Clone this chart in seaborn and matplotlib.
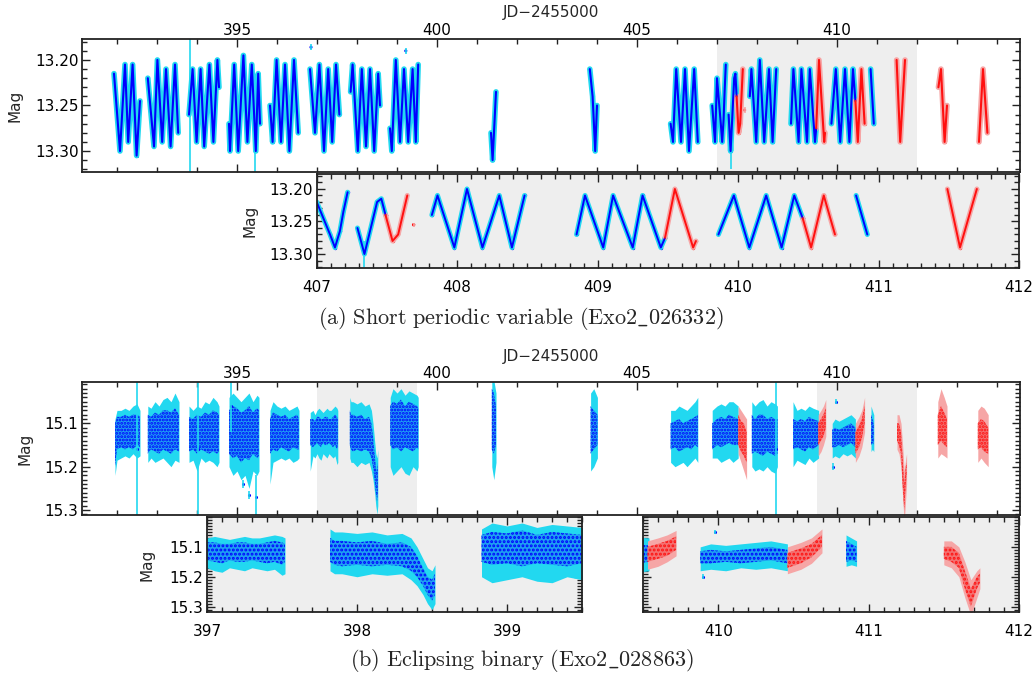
import matplotlib
matplotlib.use("Agg")
import matplotlib.pyplot as plt
import seaborn as sns
from matplotlib.ticker import MultipleLocator, FormatStrFormatter, FixedLocator

# ------------------------------------------------------------------ data
# (a) short periodic variable: read-off turning points of each light-curve chunk
A_BLUE_T = [
    [391.925, 392.075, 392.2, 392.28, 392.39, 392.49, 392.575],
    [392.77, 392.925, 393.01, 393.13, 393.225, 393.34, 393.45, 393.53],
    [393.8, 393.89, 393.99, 394.09, 394.18, 394.31, 394.41, 394.51, 394.55],
    [394.8, 394.825, 394.93, 395.03, 395.16, 395.26, 395.37, 395.47, 395.53, 395.575],
    [395.825, 395.89, 395.99, 396.1, 396.2, 396.31, 396.425, 396.53],
    [396.825, 396.95, 397.06, 397.175, 397.28, 397.38, 397.475, 397.56],
    [397.84, 397.89, 398.02, 398.12, 398.225, 398.325, 398.43, 398.53, 398.575],
    [398.825, 398.87, 398.97, 399.075, 399.175, 399.28, 399.39, 399.47, 399.53],
    [401.35, 401.39, 401.475],
    [403.82, 403.89, 403.955, 404.0],
    [405.84, 405.9, 405.98, 406.1, 406.2, 406.3, 406.43, 406.52],
    [406.88, 406.95, 407.0, 407.095, 407.13, 407.165, 407.19, 407.22],
    [407.29, 407.34, 407.43, 407.46, 407.49],
    [407.82, 407.86, 407.98, 408.07, 408.18, 408.3, 408.39, 408.48],
    [408.85, 408.91, 409.04, 409.11, 409.25, 409.32, 409.45, 409.48],
    [409.86, 409.97, 410.08, 410.2, 410.31, 410.4, 410.46],
    [410.84, 410.92],
]
A_BLUE_M = [
    [13.215, 13.300, 13.205, 13.290, 13.205, 13.305, 13.245],
    [13.220, 13.295, 13.200, 13.290, 13.210, 13.295, 13.205, 13.280],
    [13.260, 13.210, 13.290, 13.210, 13.295, 13.205, 13.290, 13.200, 13.230],
    [13.270, 13.300, 13.205, 13.300, 13.195, 13.290, 13.205, 13.300, 13.215, 13.270],
    [13.250, 13.290, 13.200, 13.290, 13.205, 13.300, 13.200, 13.280],
    [13.210, 13.280, 13.205, 13.300, 13.210, 13.290, 13.205, 13.260],
    [13.235, 13.205, 13.300, 13.210, 13.295, 13.210, 13.300, 13.215, 13.250],
    [13.275, 13.300, 13.200, 13.290, 13.210, 13.290, 13.210, 13.290, 13.205],
    [13.280, 13.310, 13.235],
    [13.210, 13.240, 13.300, 13.250],
    [13.270, 13.290, 13.210, 13.290, 13.210, 13.300, 13.210, 13.290],
    [13.250, 13.290, 13.220, 13.270, 13.290, 13.265, 13.235, 13.205],
    [13.260, 13.300, 13.220, 13.215, 13.240],
    [13.240, 13.210, 13.290, 13.200, 13.290, 13.210, 13.290, 13.210],
    [13.270, 13.210, 13.290, 13.210, 13.290, 13.210, 13.290, 13.275],
    [13.270, 13.210, 13.290, 13.210, 13.290, 13.210, 13.245],
    [13.210, 13.270],
]
A_RED_T = [
    [407.49, 407.54, 407.58, 407.645],
    [409.48, 409.55, 409.68, 409.70],
    [410.46, 410.52, 410.61, 410.69],
    [411.49, 411.58, 411.70],
    [412.535, 412.60, 412.69, 412.75],
    [413.55, 413.65, 413.76],
]
A_RED_M = [
    [13.240, 13.280, 13.270, 13.210],
    [13.275, 13.200, 13.290, 13.280],
    [13.245, 13.290, 13.210, 13.270],
    [13.200, 13.290, 13.200],
    [13.230, 13.210, 13.290, 13.250],
    [13.290, 13.210, 13.280],
]
# isolated points / long error bars in (a)
A_OUT_T = [393.83, 395.45, 407.34, 396.85, 399.22, 407.69]
A_OUT_M = [13.250, 13.300, 13.300, 13.186, 13.190, 13.255]
A_OUT_E = [0.080, 0.025, 0.020, 0.003, 0.003, 0.003]
A_OUT_RED = [False, False, False, False, False, True]

# (b) eclipsing binary: envelopes of the scatter (core = dots, err = error bars)
B_BLUE_T = [
    [391.95, 392.0, 392.1, 392.2, 392.3, 392.4, 392.5, 392.575],
    [392.77, 392.85, 392.95, 393.05, 393.15, 393.25, 393.35, 393.45, 393.55],
    [393.8, 393.9, 394.0, 394.1, 394.2, 394.3, 394.4, 394.5, 394.55],
    [394.8, 394.9, 395.0, 395.1, 395.2, 395.3, 395.4, 395.5, 395.55],
    [395.825, 395.9, 396.0, 396.1, 396.2, 396.3, 396.4, 396.5, 396.55],
    [396.83, 396.9, 396.95, 397.0, 397.05, 397.1, 397.15, 397.2, 397.25, 397.3,
     397.35, 397.4, 397.45, 397.5, 397.52],
    [397.82, 397.85, 397.9, 398.0, 398.1, 398.2, 398.3, 398.36, 398.4, 398.44,
     398.47, 398.5, 398.52],
    [398.83, 398.9, 399.0, 399.1, 399.2, 399.3, 399.4, 399.5, 399.53],
    [401.37, 401.42, 401.475],
    [403.84, 403.92, 404.01],
    [405.84, 405.95, 406.05, 406.15, 406.25, 406.35, 406.45, 406.52],
    [406.88, 407.0, 407.1, 407.2, 407.3, 407.4, 407.53],
    [407.87, 407.95, 408.05, 408.15, 408.25, 408.35, 408.45, 408.51],
    [408.9, 409.0, 409.1, 409.2, 409.3, 409.4, 409.54],
    [409.88, 409.95, 410.05, 410.15, 410.25, 410.35, 410.46],
    [410.85, 410.885, 410.92],
]
B_BLUE_ELO = [
    [15.09, 15.07, 15.07, 15.065, 15.07, 15.06, 15.055, 15.07],
    [15.06, 15.065, 15.05, 15.06, 15.045, 15.04, 15.05, 15.03, 15.05],
    [15.06, 15.07, 15.06, 15.065, 15.05, 15.055, 15.04, 15.05, 15.06],
    [15.04, 15.03, 15.04, 15.05, 15.04, 15.03, 15.05, 15.035, 15.04],
    [15.07, 15.05, 15.06, 15.065, 15.06, 15.07, 15.065, 15.06, 15.07],
    [15.075, 15.07, 15.08, 15.07, 15.065, 15.07, 15.075, 15.07, 15.065, 15.07,
     15.07, 15.065, 15.06, 15.065, 15.07],
    [15.04, 15.05, 15.05, 15.055, 15.05, 15.06, 15.055, 15.07, 15.10, 15.14,
     15.17, 15.18, 15.16],
    [15.04, 15.02, 15.03, 15.02, 15.035, 15.025, 15.03, 15.035, 15.04],
    [15.00, 15.00, 15.03],
    [15.03, 15.02, 15.04],
    [15.07, 15.07, 15.06, 15.065, 15.07, 15.06, 15.05, 15.04],
    [15.07, 15.06, 15.055, 15.06, 15.05, 15.05, 15.06],
    [15.05, 15.06, 15.05, 15.045, 15.06, 15.05, 15.055, 15.06],
    [15.05, 15.07, 15.065, 15.07, 15.06, 15.065, 15.07],
    [15.10, 15.09, 15.095, 15.09, 15.085, 15.08, 15.09],
    [15.06, 15.07, 15.08],
]
B_BLUE_CLO = [
    [15.10, 15.085, 15.085, 15.08, 15.085, 15.08, 15.08, 15.085],
    [15.08, 15.085, 15.075, 15.08, 15.07, 15.07, 15.075, 15.065, 15.08],
    [15.085, 15.09, 15.08, 15.085, 15.075, 15.08, 15.07, 15.075, 15.08],
    [15.07, 15.06, 15.065, 15.075, 15.07, 15.06, 15.075, 15.065, 15.07],
    [15.09, 15.075, 15.08, 15.085, 15.08, 15.09, 15.085, 15.08, 15.09],
    [15.09, 15.09, 15.095, 15.085, 15.085, 15.09, 15.09, 15.085, 15.085, 15.09,
     15.09, 15.085, 15.08, 15.085, 15.09],
    [15.07, 15.08, 15.08, 15.085, 15.08, 15.09, 15.085, 15.10, 15.13, 15.17,
     15.20, 15.21, 15.19],
    [15.06, 15.05, 15.055, 15.045, 15.06, 15.05, 15.055, 15.06, 15.065],
    [15.02, 15.03, 15.06],
    [15.06, 15.07, 15.08],
    [15.10, 15.095, 15.09, 15.10, 15.095, 15.09, 15.085, 15.08],
    [15.10, 15.09, 15.085, 15.09, 15.08, 15.085, 15.09],
    [15.08, 15.09, 15.08, 15.08, 15.09, 15.085, 15.09, 15.09],
    [15.09, 15.095, 15.09, 15.095, 15.085, 15.09, 15.095],
    [15.115, 15.11, 15.115, 15.11, 15.105, 15.10, 15.11],
    [15.08, 15.09, 15.10],
]
B_BLUE_CHI = [
    [15.20, 15.16, 15.155, 15.16, 15.155, 15.16, 15.15, 15.155],
    [15.17, 15.16, 15.165, 15.17, 15.16, 15.165, 15.17, 15.16, 15.165],
    [15.165, 15.16, 15.17, 15.16, 15.165, 15.17, 15.165, 15.17, 15.165],
    [15.17, 15.18, 15.175, 15.19, 15.18, 15.185, 15.17, 15.18, 15.175],
    [15.17, 15.16, 15.165, 15.155, 15.16, 15.165, 15.155, 15.16, 15.16],
    [15.15, 15.155, 15.15, 15.145, 15.15, 15.155, 15.145, 15.15, 15.15, 15.145,
     15.15, 15.155, 15.15, 15.16, 15.15],
    [15.15, 15.16, 15.165, 15.16, 15.165, 15.16, 15.165, 15.18, 15.20, 15.23,
     15.26, 15.28, 15.26],
    [15.15, 15.16, 15.155, 15.165, 15.155, 15.16, 15.165, 15.155, 15.16],
    [15.16, 15.17, 15.15],
    [15.17, 15.16, 15.15],
    [15.16, 15.155, 15.165, 15.16, 15.155, 15.16, 15.15, 15.155],
    [15.16, 15.15, 15.155, 15.15, 15.145, 15.15, 15.15],
    [15.17, 15.165, 15.17, 15.175, 15.165, 15.17, 15.175, 15.17],
    [15.16, 15.155, 15.16, 15.165, 15.155, 15.16, 15.15],
    [15.155, 15.155, 15.15, 15.155, 15.15, 15.145, 15.155],
    [15.15, 15.145, 15.15],
]
B_BLUE_EHI = [
    [15.22, 15.185, 15.18, 15.175, 15.18, 15.17, 15.18, 15.175],
    [15.19, 15.18, 15.19, 15.185, 15.18, 15.19, 15.20, 15.185, 15.19],
    [15.19, 15.185, 15.21, 15.18, 15.19, 15.185, 15.19, 15.20, 15.19],
    [15.20, 15.22, 15.21, 15.23, 15.22, 15.25, 15.21, 15.22, 15.21],
    [15.24, 15.19, 15.185, 15.18, 15.185, 15.18, 15.19, 15.185, 15.18],
    [15.21, 15.175, 15.18, 15.17, 15.18, 15.185, 15.17, 15.175, 15.18, 15.17,
     15.175, 15.18, 15.175, 15.195, 15.19],
    [15.18, 15.19, 15.19, 15.20, 15.19, 15.195, 15.19, 15.21, 15.23, 15.26,
     15.29, 15.31, 15.29],
    [15.20, 15.22, 15.21, 15.20, 15.215, 15.22, 15.20, 15.21, 15.20],
    [15.20, 15.23, 15.19],
    [15.21, 15.20, 15.18],
    [15.19, 15.20, 15.195, 15.19, 15.20, 15.19, 15.18, 15.19],
    [15.18, 15.18, 15.19, 15.185, 15.18, 15.19, 15.18],
    [15.20, 15.21, 15.205, 15.21, 15.20, 15.21, 15.215, 15.20],
    [15.20, 15.185, 15.19, 15.195, 15.18, 15.19, 15.18],
    [15.18, 15.175, 15.18, 15.17, 15.175, 15.17, 15.18],
    [15.165, 15.16, 15.165],
]
B_RED_T = [
    [407.53, 407.6, 407.67, 407.74],
    [409.53, 409.6, 409.66, 409.72],
    [410.46, 410.55, 410.62, 410.69],
    [411.5, 411.55, 411.6, 411.64, 411.68, 411.72, 411.74],
    [412.52, 412.6, 412.68, 412.75],
    [413.52, 413.6, 413.68, 413.78],
]
B_RED_ELO = [
    [15.06, 15.07, 15.08, 15.09],
    [15.08, 15.07, 15.06, 15.045],
    [15.10, 15.085, 15.07, 15.04],
    [15.08, 15.08, 15.10, 15.15, 15.21, 15.18, 15.17],
    [15.05, 15.02, 15.04, 15.06],
    [15.07, 15.06, 15.065, 15.08],
]
B_RED_CLO = [
    [15.08, 15.095, 15.10, 15.12],
    [15.10, 15.09, 15.08, 15.065],
    [15.12, 15.105, 15.09, 15.06],
    [15.10, 15.10, 15.12, 15.18, 15.24, 15.20, 15.19],
    [15.08, 15.06, 15.075, 15.09],
    [15.10, 15.09, 15.095, 15.11],
]
B_RED_CHI = [
    [15.15, 15.165, 15.175, 15.19],
    [15.15, 15.14, 15.13, 15.11],
    [15.17, 15.155, 15.135, 15.10],
    [15.14, 15.15, 15.17, 15.24, 15.30, 15.24, 15.22],
    [15.15, 15.14, 15.15, 15.155],
    [15.16, 15.155, 15.165, 15.17],
]
B_RED_EHI = [
    [15.17, 15.19, 15.21, 15.23],
    [15.175, 15.165, 15.15, 15.13],
    [15.19, 15.175, 15.155, 15.12],
    [15.16, 15.17, 15.20, 15.27, 15.33, 15.27, 15.24],
    [15.18, 15.17, 15.175, 15.18],
    [15.19, 15.18, 15.19, 15.20],
]
# isolated points / long error bars in (b)
B_OUT_T = [392.49, 394.02, 395.47, 394.85, 408.47, 395.30, 395.15, 409.90, 409.98]
B_OUT_M = [15.160, 15.160, 15.270, 15.060, 15.160, 15.265, 15.240, 15.200, 15.050]
B_OUT_E = [0.160, 0.160, 0.050, 0.060, 0.160, 0.010, 0.010, 0.008, 0.006]

# axes, ticks, labels
MAIN_XLIM = (391.125, 414.575)
MAIN_XTICKS = [395, 400, 405, 410]
A_YLIM = (13.323, 13.177)
A_ZOOM_YLIM = (13.3215, 13.177)
A_YTICKS = [13.20, 13.25, 13.30]
A_ZOOM_XLIM = (407, 412)
A_SHADE = [(407, 412)]
B_YLIM = (15.3115, 15.0045)
B_ZOOM_YLIM = (15.318, 15.0)
B_YTICKS = [15.1, 15.2, 15.3]
B_ZOOM_L_XLIM = (397, 399.5)
B_ZOOM_R_XLIM = (409.5, 412)
B_SHADE = [(397, 399.5), (409.5, 412)]
XLABEL = "JD\u22122455000"
YLABEL = "Mag"
CAPTION_A = r"$\mathrm{(a)\ Short\ periodic\ variable\ (Exo2\_026332)}$"
CAPTION_B = r"$\mathrm{(b)\ Eclipsing\ binary\ (Exo2\_028863)}$"

# ------------------------------------------------------------------ style
sns.set_theme(style="ticks")
plt.rcParams["font.family"] = ["DejaVu Sans"]
plt.rcParams["mathtext.fontset"] = "cm"
plt.rcParams["hatch.linewidth"] = 1.4

BLUE = "#0000ff"
CYAN = "#22d8f0"
CORE_B = "#1e9ff2"
RED = "#ff1010"
PINK = "#f6a6a6"
CORE_R = "#f47070"
SHADE = "#eeeeee"

W, H = 1034, 677
fig = plt.figure(figsize=(W / 100, H / 100), dpi=100)


def add_ax(left, top, right, bottom):
    return fig.add_axes([left / W, 1 - bottom / H, (right - left) / W, (bottom - top) / H])


def style_ax(ax, xmaj, xmin, ymaj, ymin, yfmt, top_labels=False, ylabels=True):
    if isinstance(xmaj, list):
        ax.xaxis.set_major_locator(FixedLocator(xmaj))
    else:
        ax.xaxis.set_major_locator(MultipleLocator(xmaj))
    ax.xaxis.set_minor_locator(MultipleLocator(xmin))
    ax.yaxis.set_major_locator(FixedLocator(ymaj))
    ax.yaxis.set_minor_locator(MultipleLocator(ymin))
    ax.xaxis.set_major_formatter(FormatStrFormatter("%d"))
    ax.yaxis.set_major_formatter(FormatStrFormatter(yfmt))
    ax.tick_params(which="both", direction="in", top=True, right=True,
                   bottom=True, left=True, color="#222222", width=1.0,
                   labelsize=11, labelcolor="black")
    ax.tick_params(which="major", length=6)
    ax.tick_params(which="minor", length=3.5)
    ax.tick_params(axis="y", which="major", pad=2.5)
    ax.tick_params(axis="x", which="major", pad=0.8 if top_labels else 9.0)
    ax.tick_params(axis="x", labeltop=top_labels, labelbottom=not top_labels)
    ax.tick_params(axis="y", labelleft=ylabels)
    for s in ax.spines.values():
        s.set_visible(True)
        s.set_linewidth(1.3)
        s.set_color("#222222")
    ax.set_xlabel("")
    ax.set_ylabel("")


def draw_a(ax, halo, lw, dot):
    for t, m in zip(A_BLUE_T, A_BLUE_M):
        sns.lineplot(x=t, y=m, ax=ax, color=CYAN, lw=halo, sort=False,
                     estimator=None, solid_joinstyle="round", solid_capstyle="round")
    for t, m in zip(A_RED_T, A_RED_M):
        sns.lineplot(x=t, y=m, ax=ax, color=PINK, lw=halo, sort=False,
                     estimator=None, solid_joinstyle="round", solid_capstyle="round")
    for t, m, e, r in zip(A_OUT_T, A_OUT_M, A_OUT_E, A_OUT_RED):
        ax.errorbar(t, m, yerr=e, fmt="none", ecolor=PINK if r else CYAN, elinewidth=1.2)
    for t, m in zip(A_BLUE_T, A_BLUE_M):
        sns.lineplot(x=t, y=m, ax=ax, color=BLUE, lw=lw, sort=False, estimator=None)
        sns.scatterplot(x=t, y=m, ax=ax, color=BLUE, s=dot, linewidth=0)
    for t, m in zip(A_RED_T, A_RED_M):
        sns.lineplot(x=t, y=m, ax=ax, color=RED, lw=lw, sort=False, estimator=None)
        sns.scatterplot(x=t, y=m, ax=ax, color=RED, s=dot, linewidth=0)
    sns.scatterplot(x=A_OUT_T, y=A_OUT_M, ax=ax, s=dot, linewidth=0,
                    hue=A_OUT_RED, palette={False: BLUE, True: RED}, legend=False)


def draw_b(ax, hatch):
    for t, elo, clo, chi, ehi in zip(B_BLUE_T, B_BLUE_ELO, B_BLUE_CLO, B_BLUE_CHI, B_BLUE_EHI):
        ax.fill_between(t, elo, ehi, color=CYAN, lw=0)
        ax.fill_between(t, clo, chi, facecolor=CORE_B, edgecolor=BLUE, hatch=hatch, lw=0)
    for t, elo, clo, chi, ehi in zip(B_RED_T, B_RED_ELO, B_RED_CLO, B_RED_CHI, B_RED_EHI):
        ax.fill_between(t, elo, ehi, color=PINK, lw=0)
        ax.fill_between(t, clo, chi, facecolor=CORE_R, edgecolor=RED, hatch=hatch, lw=0)
    ax.errorbar(B_OUT_T, B_OUT_M, yerr=B_OUT_E, fmt="none", ecolor=CYAN, elinewidth=1.2)
    sns.scatterplot(x=B_OUT_T, y=B_OUT_M, ax=ax, color=BLUE, s=5, linewidth=0)


# ---------------------------------------------------------------- panel (a)
ax_a = add_ax(82, 39, 1020, 172)
for lo, hi in A_SHADE:
    ax_a.axvspan(lo, hi, color=SHADE, lw=0, zorder=0)
draw_a(ax_a, halo=4.0, lw=1.5, dot=5)
ax_a.set_xlim(*MAIN_XLIM)
ax_a.set_ylim(*A_YLIM)
style_ax(ax_a, MAIN_XTICKS, 1, A_YTICKS, 0.01, "%.2f", top_labels=True)
ax_a.set_ylabel(YLABEL, fontsize=11)
ax_a.yaxis.set_label_coords(-0.063, 0.5)
fig.text(551 / W, 1 - 13 / H, XLABEL, ha="center", va="center", fontsize=11)

ax_az = add_ax(316.7, 174, 1019, 268)
ax_az.set_facecolor(SHADE)
draw_a(ax_az, halo=3.6, lw=1.4, dot=6)
ax_az.set_xlim(*A_ZOOM_XLIM)
ax_az.set_ylim(*A_ZOOM_YLIM)
style_ax(ax_az, 1, 0.1, A_YTICKS, 0.01, "%.2f")
ax_az.set_ylabel(YLABEL, fontsize=11)
ax_az.yaxis.set_label_coords(-0.085, 0.5)

fig.text(521 / W, 1 - 318 / H, CAPTION_A, ha="center", va="center", fontsize=16)

# ---------------------------------------------------------------- panel (b)
ax_b = add_ax(82, 382, 1020, 515)
for lo, hi in B_SHADE:
    ax_b.axvspan(lo, hi, color=SHADE, lw=0, zorder=0)
draw_b(ax_b, hatch=".....")
ax_b.set_xlim(*MAIN_XLIM)
ax_b.set_ylim(*B_YLIM)
style_ax(ax_b, MAIN_XTICKS, 1, B_YTICKS, 0.01, "%.1f", top_labels=True)
ax_b.set_ylabel(YLABEL, fontsize=11)
ax_b.yaxis.set_label_coords(-0.053, 0.5)
fig.text(551 / W, 1 - 357 / H, XLABEL, ha="center", va="center", fontsize=11)

ax_bl = add_ax(207, 517, 582, 612)
ax_bl.set_facecolor(SHADE)
draw_b(ax_bl, hatch="....")
ax_bl.set_xlim(*B_ZOOM_L_XLIM)
ax_bl.set_ylim(*B_ZOOM_YLIM)
style_ax(ax_bl, 1, 0.1, B_YTICKS, 0.01, "%.1f")
ax_bl.set_ylabel(YLABEL, fontsize=11)
ax_bl.yaxis.set_label_coords(-0.139, 0.5)

ax_br = add_ax(643, 517, 1019, 612)
ax_br.set_facecolor(SHADE)
draw_b(ax_br, hatch="....")
ax_br.set_xlim(*B_ZOOM_R_XLIM)
ax_br.set_ylim(*B_ZOOM_YLIM)
style_ax(ax_br, 1, 0.1, B_YTICKS, 0.01, "%.1f", ylabels=False)

fig.text(522 / W, 1 - 661 / H, CAPTION_B, ha="center", va="center", fontsize=16)

fig.savefig("out.png", dpi=100)
